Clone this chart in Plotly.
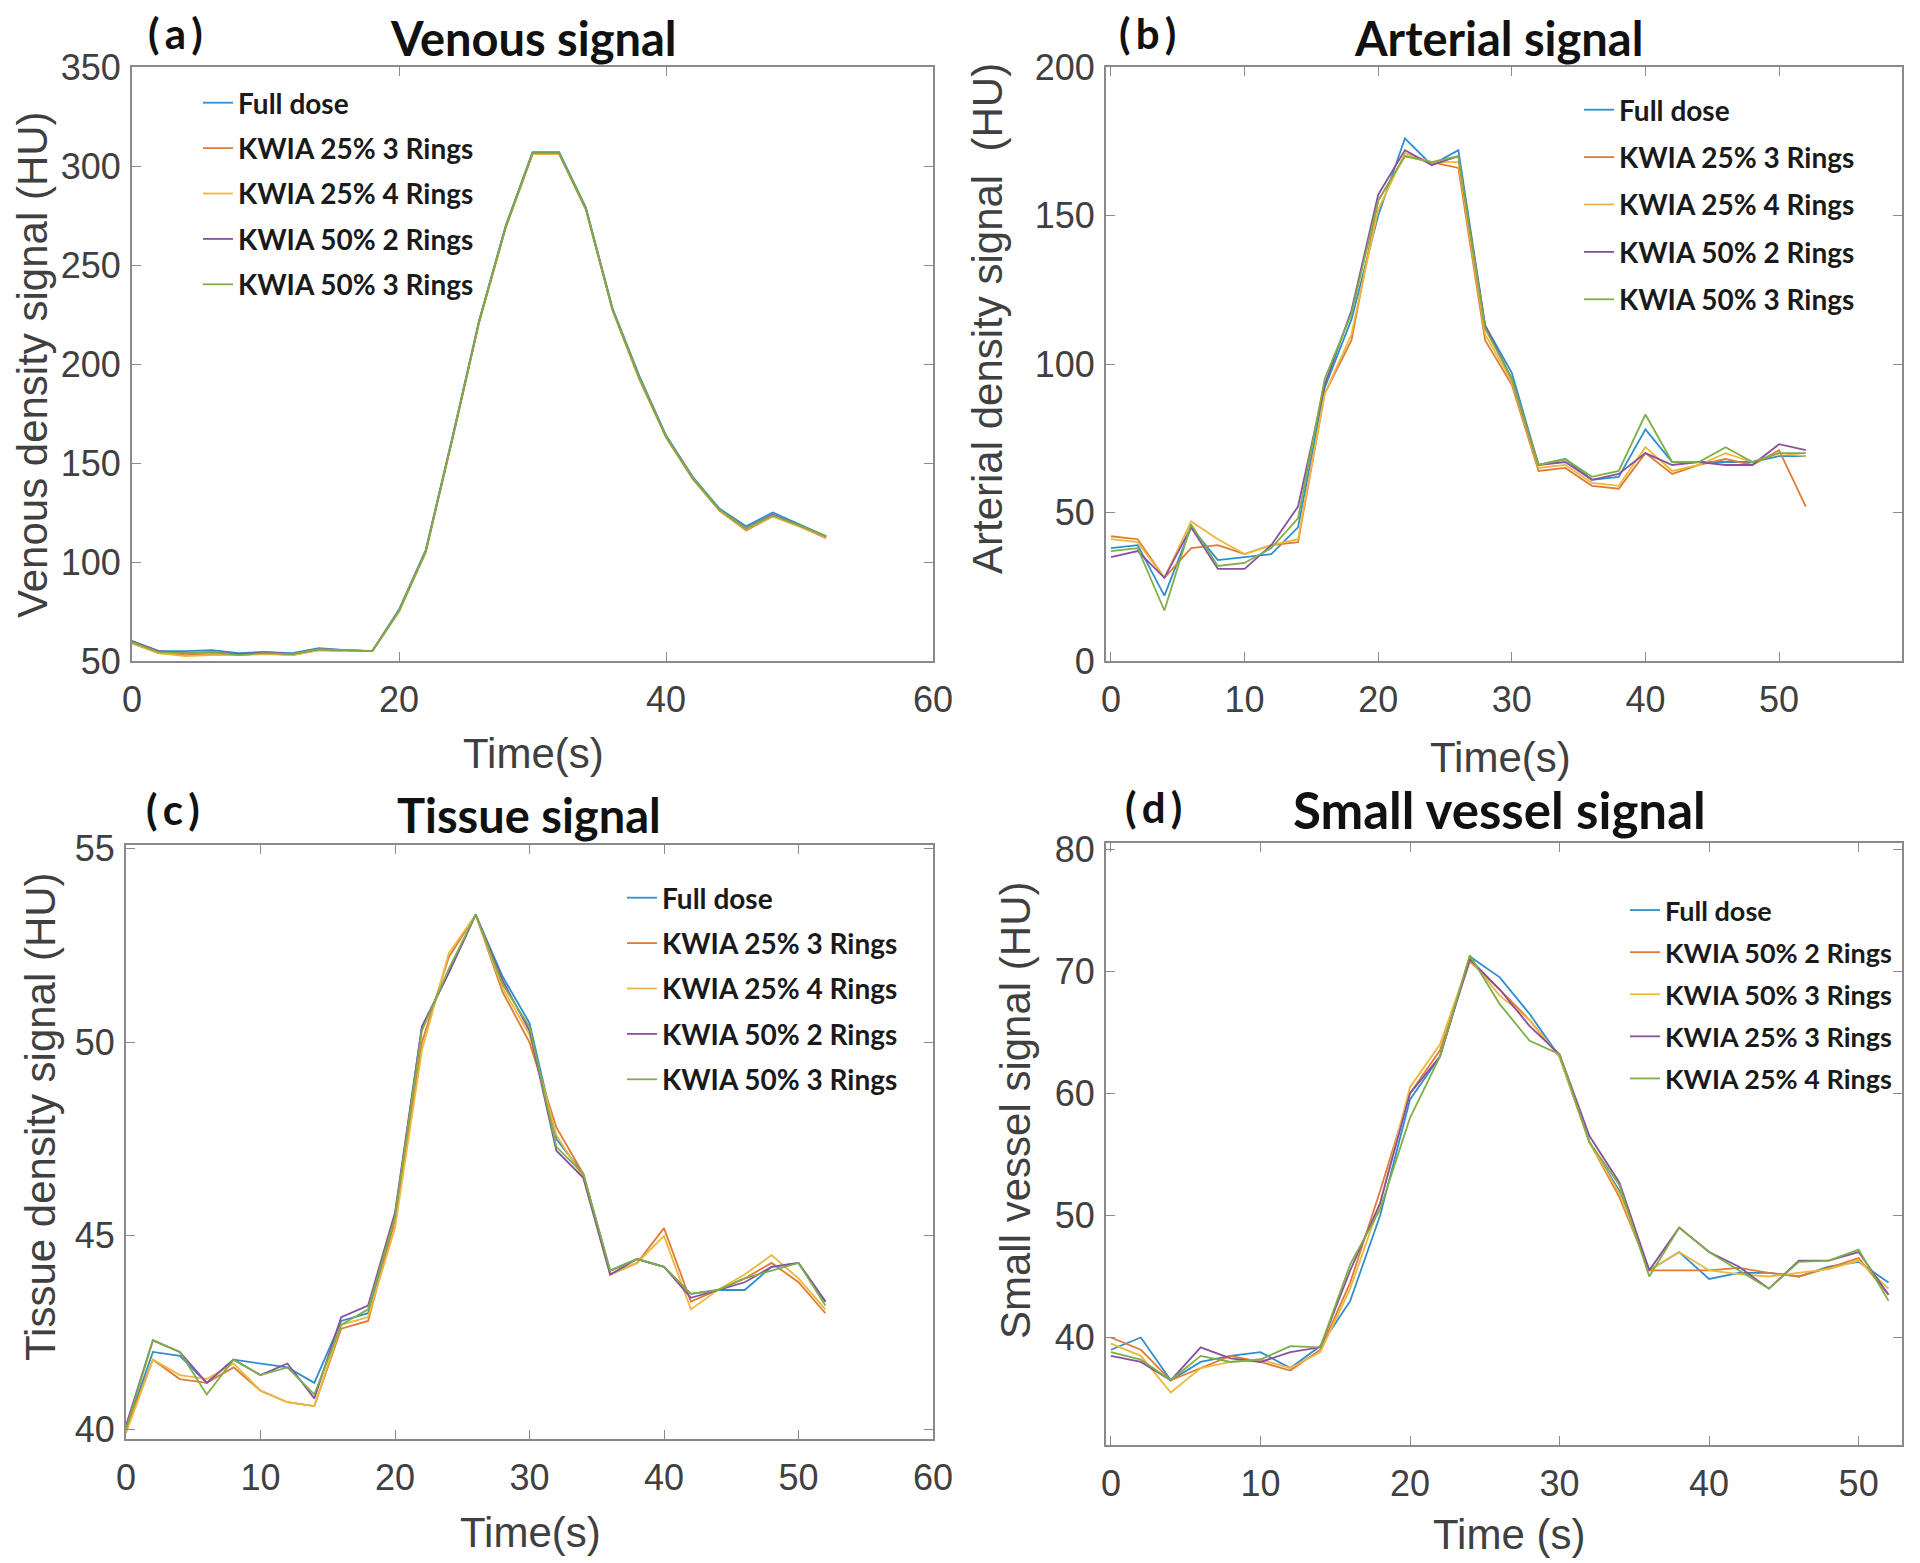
import plotly.graph_objects as go

# ---------------- data ----------------
TIME = [0, 2, 4, 6, 8, 10, 12, 14, 16, 18, 20, 22, 24, 26, 28, 30, 32, 34, 36, 38, 40, 42, 44, 46, 48, 50, 52]

NAMES_ABC = ["Full dose", "KWIA 25% 3 Rings", "KWIA 25% 4 Rings", "KWIA 50% 2 Rings", "KWIA 50% 3 Rings"]
NAMES_D = ["Full dose", "KWIA 50% 2 Rings", "KWIA 50% 3 Rings", "KWIA 25% 3 Rings", "KWIA 25% 4 Rings"]

# (a) Venous
venous_full = [60, 55, 55, 55.5, 54, 54.5, 54, 56.5, 55.5, 55, 76, 106, 163, 222, 270, 307, 307, 279, 228, 194, 164, 143, 127, 118, 125, 119, 113]
venous_k25r3 = [59, 54, 53, 53.5, 53, 54, 53, 55.5, 55, 55, 75, 105, 162, 221, 269, 306, 306, 278, 227, 193, 163, 142, 126, 116, 123, 118, 112]
venous_k25r4 = [59, 54, 52.5, 53, 53, 53.5, 53, 55.5, 55, 55, 75, 105, 162, 221, 269, 306, 306, 278, 227, 192, 163, 142, 126, 116.5, 123, 118, 112.5]
venous_k50r2 = [60, 55, 54, 54.5, 53.5, 54.5, 53.5, 56, 55.5, 55, 75.5, 105.5, 162.5, 221.5, 269.5, 306.5, 306.5, 278.5, 227.5, 193, 163.5, 142.5, 126.5, 117, 124, 118.5, 113]
venous_k50r3 = [59.5, 54.5, 54, 54.5, 53, 54, 53.5, 56, 55.5, 55, 75.5, 105.5, 162.5, 221.5, 269.5, 306.5, 306.5, 278.5, 227.5, 193, 163.5, 142.5, 126.5, 117, 123.5, 118.5, 113]

# (b) Arterial
arterial_full = [38, 39, 22, 45, 34, 35, 36, 45, 92, 115, 150, 176, 167, 172, 113, 97, 66, 68, 61, 62, 78, 67, 67, 67, 67, 69, 69]
arterial_k25r3 = [42, 41, 28, 38, 39, 36, 39, 40, 90, 108, 155, 170, 168, 166, 108, 93, 64, 65, 59, 58, 70, 63, 66, 68, 66, 71, 52]
arterial_k25r4 = [41, 40, 28, 47, 41, 36, 39, 41, 90, 110, 152, 171, 168, 168, 110, 94, 65, 66, 60, 59, 72, 64, 66, 70, 67, 70, 69]
arterial_k50r2 = [35, 37, 28, 45, 31, 31, 39, 52, 93, 118, 157, 172, 167, 170, 113, 95, 66, 67, 61, 63, 70, 66, 67, 66, 66, 73, 71]
arterial_k50r3 = [37, 38, 17, 46, 32, 33, 38, 48, 95, 117, 155, 170, 168, 170, 112, 95, 66, 68, 62, 64, 83, 67, 67, 72, 67, 70, 70]

# (c) Tissue
tissue_full = [40.0, 42.0, 41.9, 41.2, 41.8, 41.7, 41.6, 41.2, 42.8, 43.0, 45.5, 50.4, 51.8, 53.3, 51.7, 50.5, 47.5, 46.6, 44.1, 44.4, 44.2, 43.5, 43.6, 43.6, 44.2, 44.3, 43.3]
tissue_k25r3 = [40.0, 41.8, 41.3, 41.2, 41.6, 41.0, 40.7, 40.6, 42.6, 42.8, 45.4, 50.0, 52.2, 53.3, 51.3, 50.0, 47.8, 46.6, 44.0, 44.3, 45.2, 43.3, 43.6, 43.9, 44.3, 43.8, 43.0]
tissue_k25r4 = [39.9, 41.8, 41.4, 41.3, 41.7, 41.0, 40.7, 40.6, 42.7, 42.9, 45.2, 49.8, 52.3, 53.3, 51.4, 50.2, 47.6, 46.5, 44.0, 44.3, 45.0, 43.1, 43.6, 44.0, 44.5, 43.9, 43.1]
tissue_k50r2 = [40.1, 42.3, 42.0, 41.2, 41.8, 41.4, 41.7, 40.8, 42.9, 43.2, 45.6, 50.4, 51.8, 53.3, 51.6, 50.3, 47.2, 46.5, 44.0, 44.4, 44.2, 43.4, 43.6, 43.8, 44.2, 44.3, 43.3]
tissue_k50r3 = [40.0, 42.3, 42.0, 40.9, 41.8, 41.4, 41.6, 40.9, 42.7, 43.1, 45.5, 50.3, 51.9, 53.3, 51.5, 50.4, 47.3, 46.6, 44.1, 44.4, 44.2, 43.5, 43.6, 43.9, 44.1, 44.3, 43.2]

# (d) Small vessel (legend order differs)
small_full = [39, 40, 36.5, 38, 38.5, 38.8, 37.5, 39.3, 43, 50, 59.5, 63, 71.2, 69.5, 66.5, 63, 56, 52, 45.5, 47, 44.8, 45.3, 45.3, 45, 45.8, 46.2, 44.5]
small_k50r2 = [40, 39, 36.5, 37.5, 38.5, 38, 37.3, 39, 44.5, 52, 60, 63.5, 70.8, 68.5, 66, 63, 56, 51.5, 45.5, 45.5, 45.5, 45.7, 45.3, 45, 45.7, 46.5, 43.5]
small_k50r3 = [39.5, 38.5, 35.5, 37.5, 38, 38.2, 37.5, 38.8, 44, 51, 60.5, 64, 71, 68, 66, 63, 56, 51.8, 45.5, 47, 45.5, 45.2, 45, 45.3, 45.6, 46.3, 44]
small_k25r3 = [38.5, 38, 36.5, 39.2, 38.3, 38, 38.8, 39.2, 45.5, 51, 60, 63, 71, 68.5, 65.5, 63.2, 56.5, 52.7, 45.5, 49, 47, 45.8, 44, 46.3, 46.3, 47, 43.5]
small_k25r4 = [38.8, 38.2, 36.5, 38.5, 38, 38.2, 39.3, 39.2, 46, 50.5, 58, 63, 71.3, 67.3, 64.3, 63.2, 56, 52.5, 45, 49, 47, 45.5, 44, 46.2, 46.3, 47.2, 43]

TITLES = ["Venous signal", "Arterial signal", "Tissue signal", "Small vessel signal"]
PANEL_LABELS = ["(\u2009a\u2009)", "(\u2009b\u2009)", "(\u2009c\u2009)", "(\u2009d\u2009)"]
YTITLES = ["Venous density signal (HU)", "Arterial density signal  (HU)", "Tissue density signal (HU)", "Small vessel signal (HU)"]
XTITLES = ["Time(s)", "Time(s)", "Time(s)", "Time (s)"]

# ---------------- styling ----------------
W, H = 1920, 1563
OFF = 8  # page body margin offset
COLORS = ["#2F8FCE", "#E07B36", "#EDB83C", "#8A4FA3", "#7DAF46"]
AX_COL = "#8a8a8a"
TICK_FONT = dict(family="Liberation Sans, Arial, sans-serif", size=36, color="#404040")
TITLE_FONT = dict(family="Liberation Sans, Arial, sans-serif", size=42, color="#404040")
BOLD_FONT = "Lato, Open Sans, sans-serif"


def px_x(p):
    return (p - OFF) / W


def px_y(p):
    return 1 - (p - OFF) / H


# plot-area boxes in pixels: (left, right, top, bottom)
BOXES = [(132, 933, 67, 661), (1106, 1902, 67, 661), (126, 933, 845, 1439), (1106, 1902, 843, 1445)]
XRANGES = [[0, 60], [-0.37, 59.2], [0, 60], [-0.33, 52.9]]
YRANGES = [[50, 350], [0, 200], [39.75, 55.1], [31.2, 80.5]]
XDTICK = [20, 10, 10, 10]
YDTICK = [50, 50, 5, 10]

series = [
    (NAMES_ABC, [venous_full, venous_k25r3, venous_k25r4, venous_k50r2, venous_k50r3]),
    (NAMES_ABC, [arterial_full, arterial_k25r3, arterial_k25r4, arterial_k50r2, arterial_k50r3]),
    (NAMES_ABC, [tissue_full, tissue_k25r3, tissue_k25r4, tissue_k50r2, tissue_k50r3]),
    (NAMES_D, [small_full, small_k50r2, small_k50r3, small_k25r3, small_k25r4]),
]

fig = go.Figure()
legend_ids = ["legend", "legend2", "legend3", "legend4"]

for i, (names, ys) in enumerate(series):
    xa = "x" if i == 0 else f"x{i+1}"
    ya = "y" if i == 0 else f"y{i+1}"
    for j, (nm, yv) in enumerate(zip(names, ys)):
        fig.add_trace(go.Scatter(
            x=TIME, y=yv, mode="lines", name=nm,
            line=dict(color=COLORS[j], width=1.8),
            xaxis=xa, yaxis=ya,
            legend=legend_ids[i], legendgroup=f"g{i}_{j}",
        ))

layout = dict(
    width=W, height=H,
    margin=dict(l=0, r=0, t=0, b=0, autoexpand=False),
    paper_bgcolor="white", plot_bgcolor="white",
    showlegend=True,
)

for i, (l, r, t, b) in enumerate(BOXES):
    sx = "xaxis" if i == 0 else f"xaxis{i+1}"
    sy = "yaxis" if i == 0 else f"yaxis{i+1}"
    xa = "x" if i == 0 else f"x{i+1}"
    ya = "y" if i == 0 else f"y{i+1}"
    common = dict(showline=True, linecolor=AX_COL, linewidth=1.8, mirror="ticks",
                  ticks="inside", ticklen=9, tickwidth=1.4, tickcolor=AX_COL,
                  showgrid=False, zeroline=False, tickfont=TICK_FONT, automargin=False)
    layout[sx] = dict(domain=[px_x(l), px_x(r)], range=XRANGES[i], dtick=XDTICK[i], tick0=0,
                      anchor=ya, ticklabelstandoff=6, **common)
    layout[sy] = dict(domain=[px_y(b), px_y(t)], range=YRANGES[i], dtick=YDTICK[i], tick0=0,
                      anchor=xa, ticklabelstandoff=2, **common)

# legends: (text-start x px, first-row top px, group gap, font size)
LEG = [(243, 78, 6, 28), (1624, 85, 8, 28), (667, 873, 6, 28), (1670, 886, 4, 27)]
for i, (tx, ty, gap, fs) in enumerate(LEG):
    layout[legend_ids[i]] = dict(
        x=px_x(tx - 45), y=px_y(ty), xanchor="left", yanchor="top",
        bgcolor="rgba(0,0,0,0)", borderwidth=0,
        font=dict(family=BOLD_FONT, size=fs, color="#1a1a1a", weight="bold"),
        tracegroupgap=gap, itemwidth=30, traceorder="grouped",
    )

fig.update_layout(**layout)

ann = []
# panel labels and titles
LABEL_POS = [(175, 33), (1147, 33), (173, 809), (1153, 807)]
TITLE_POS = [(533, 38), (1498, 38), (529, 815), (1499, 809)]
TITLE_SIZE = [47, 47, 47, 51]
for i in range(4):
    ann.append(dict(text=PANEL_LABELS[i], x=px_x(LABEL_POS[i][0]), y=px_y(LABEL_POS[i][1]),
                    xref="paper", yref="paper", showarrow=False, xanchor="center", yanchor="middle",
                    font=dict(family=BOLD_FONT, size=42, color="#111", weight="bold")))
    ann.append(dict(text=TITLES[i], x=px_x(TITLE_POS[i][0]), y=px_y(TITLE_POS[i][1]),
                    xref="paper", yref="paper", showarrow=False, xanchor="center", yanchor="middle",
                    font=dict(family=BOLD_FONT, size=TITLE_SIZE[i], color="#111", weight="bold")))

XT_POS = [(533, 753), (1500, 757), (530, 1532), (1509, 1534)]
YT_POS = [(32, 365), (988, 318), (40, 1117), (1015, 1111)]
for i in range(4):
    ann.append(dict(text=XTITLES[i], x=px_x(XT_POS[i][0]), y=px_y(XT_POS[i][1]),
                    xref="paper", yref="paper", showarrow=False, xanchor="center", yanchor="middle",
                    font=TITLE_FONT))
    ann.append(dict(text=YTITLES[i], x=px_x(YT_POS[i][0]), y=px_y(YT_POS[i][1]),
                    xref="paper", yref="paper", showarrow=False, xanchor="center", yanchor="middle",
                    textangle=-90, font=TITLE_FONT))

fig.update_layout(annotations=ann)
fig.write_html("out.html")
